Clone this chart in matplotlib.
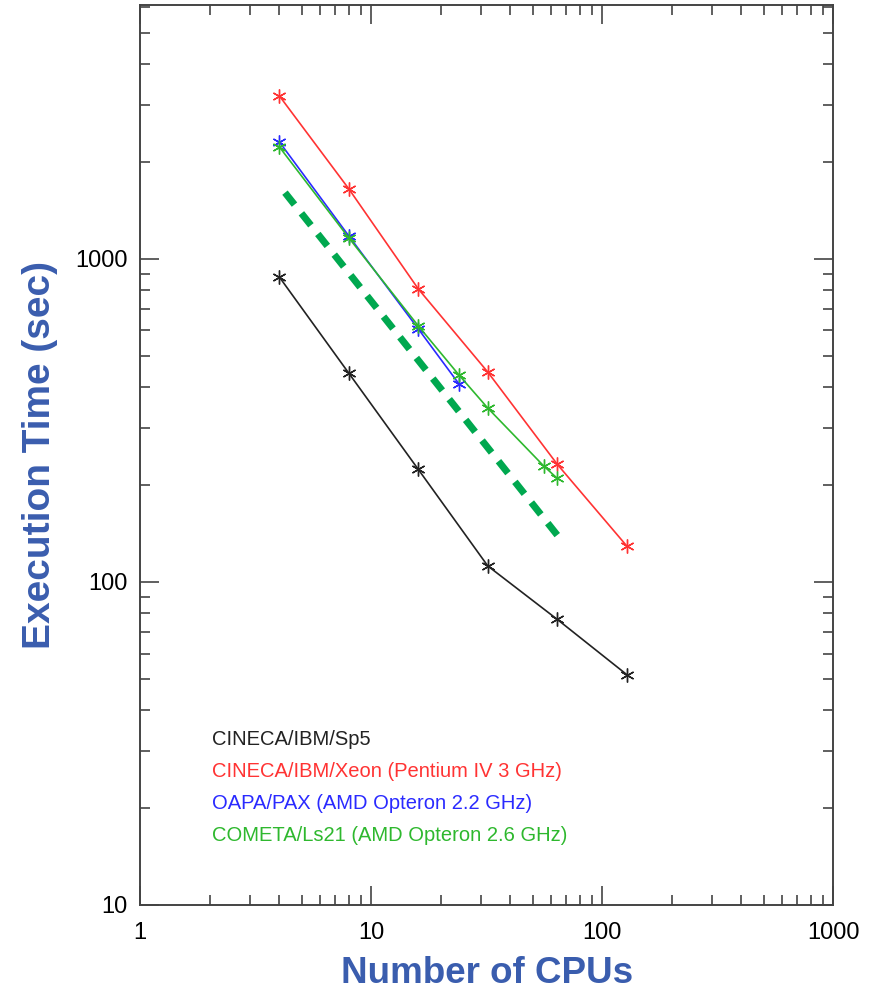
import matplotlib.pyplot as plt
import numpy as np
from matplotlib.ticker import LogLocator, FuncFormatter, NullFormatter

plt.rcParams['font.family'] = ['Liberation Sans', 'DejaVu Sans']

# data
cpus_sp5 = [4, 8, 16, 32, 64, 128]
time_sp5 = [880, 443, 223, 112, 76.5, 51.6]

cpus_xeon = [4, 8, 16, 32, 64, 128]
time_xeon = [3200, 1648, 807, 446, 231, 129]

cpus_pax = [4, 8, 16, 24]
time_pax = [2305, 1178, 607, 410]

cpus_cometa = [4, 8, 16, 24, 32, 56, 64]
time_cometa = [2224, 1162, 620, 437, 345, 228, 209]

ideal_x = [4.24, 65.8]
ideal_y = [1602, 136]

labels = ['CINECA/IBM/Sp5',
          'CINECA/IBM/Xeon (Pentium IV 3 GHz)',
          'OAPA/PAX (AMD Opteron 2.2 GHz)',
          'COMETA/Ls21 (AMD Opteron 2.6 GHz)']
colors = ['#222222', '#ff3333', '#2a2aff', '#2eb82e']

fig = plt.figure(figsize=(8.73, 9.9), dpi=100)
ax = fig.add_axes([0.1604, 0.0859, 0.794, 0.909])

star = (6, 2, 0)
series = [(cpus_sp5, time_sp5), (cpus_xeon, time_xeon),
          (cpus_pax, time_pax), (cpus_cometa, time_cometa)]
for (xs, ys), c in zip(series, colors):
    ax.plot(xs, ys, '-', color=c, lw=1.2, marker=star, ms=10, mew=1.0)

ax.plot(ideal_x, ideal_y, '--', color='#00a84f', lw=5, dashes=(2.2, 1.6))

ax.set_xscale('log')
ax.set_yscale('log')
ax.set_xlim(1, 1000)
ax.set_ylim(10, 6100)

fmt = FuncFormatter(lambda v, p: '%d' % v)
for axis in (ax.xaxis, ax.yaxis):
    axis.set_major_locator(LogLocator(base=10))
    axis.set_minor_locator(LogLocator(base=10, subs=np.arange(2, 10)))
    axis.set_major_formatter(fmt)
    axis.set_minor_formatter(NullFormatter())

ax.tick_params(which='both', direction='in', top=True, right=True,
               color='#444444', labelsize=17, width=1.2)
ax.tick_params(which='major', length=14)
ax.tick_params(axis='x', which='major', pad=12)
ax.tick_params(axis='y', which='major', pad=9)
ax.tick_params(which='minor', length=7.5)
for s in ax.spines.values():
    s.set_color('#444444')
    s.set_linewidth(1.4)

for i, (lab, c) in enumerate(zip(labels, colors)):
    ax.text(0.104, 0.184 - i * 0.0356, lab, color=c, fontsize=14.5,
            transform=ax.transAxes, va='center', ha='left')

ax.set_xlabel('Number of CPUs', fontsize=26.5, fontweight='bold',
              color='#3a5dae', labelpad=9)
ax.set_ylabel('Execution Time (sec)', fontsize=28, fontweight='bold',
              color='#3a5dae', labelpad=12)

plt.savefig('out.png', dpi=100)
